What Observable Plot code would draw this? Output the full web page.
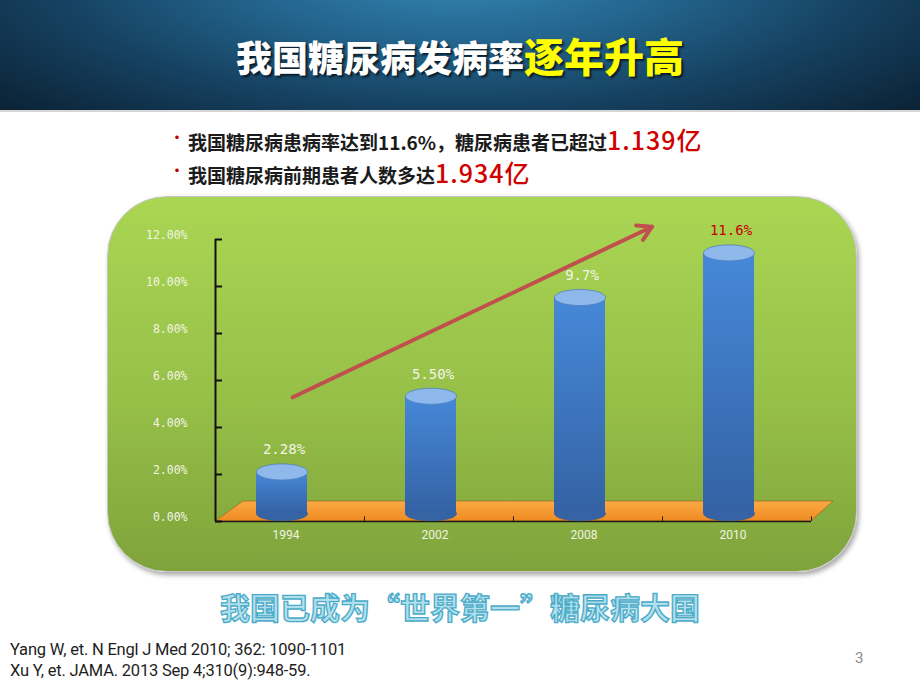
<!DOCTYPE html>
<html><head><meta charset="utf-8">
<script src="https://cdn.jsdelivr.net/npm/d3@7"></script>
<script src="https://cdn.jsdelivr.net/npm/@observablehq/plot@0.6"></script>
<style>
html,body{margin:0;padding:0;width:920px;height:690px;overflow:hidden;background:#fff;font-family:"Noto Sans CJK SC",sans-serif;}
#header{position:absolute;left:0;top:0;width:920px;height:110px;
 background:radial-gradient(ellipse 600px 200px at 460px -30px,#3589b6 0%,#24668f 35%,#164262 68%,#0c2539 100%);
 border-bottom:2px solid #d6d6d6;}
#title{position:absolute;left:0;top:28px;width:920px;text-align:center;font-weight:900;color:#fff;font-size:36px;line-height:54px;white-space:nowrap;
 text-shadow:2px 2px 2px rgba(0,0,0,.65);}
#title .hl{color:#ffff00;font-size:40px;}
.bl{position:absolute;left:170px;color:#c00000;font-size:14px;font-weight:700;}
.line{position:absolute;left:188px;white-space:nowrap;font-size:19px;font-weight:700;color:#1b1b1b;}
.line .red{color:#d00000;font-weight:500;font-size:25px;letter-spacing:1px;}
#panel{position:absolute;left:107px;top:196px;width:750px;height:376px;border-radius:60px;box-sizing:border-box;
 background:linear-gradient(#aad653,#96bf48 55%,#7fa33b);border:1px solid #c4c4c4;box-shadow:2px 3px 5px rgba(0,0,0,.35);}
#chart{position:absolute;left:107px;top:196px;}
#footer{position:absolute;left:0;top:584px;width:920px;text-align:center;font-size:30px;font-weight:700;color:#b2dfec;
 -webkit-text-stroke:1.3px #4aabc8;white-space:nowrap;line-height:44px;}
.ref{position:absolute;left:10px;font-family:"Liberation Sans Narrow","Roboto",sans-serif;font-size:16.5px;color:#1e1e1e;white-space:nowrap;letter-spacing:-0.2px;}
#page{position:absolute;left:855px;top:649px;font-family:Roboto,sans-serif;font-size:15px;color:#8a8a8a;}
</style></head>
<body>
<div id="header"><div id="title">我国糖尿病发病率<span class="hl">逐年升高</span></div></div>
<div class="bl" style="top:126px">·</div>
<div class="line" style="top:121px">我国糖尿病患病率达到11.6%，糖尿病患者已超过<span class="red">1.139亿</span></div>
<div class="bl" style="top:159px">·</div>
<div class="line" style="top:154px">我国糖尿病前期患者人数多达<span class="red">1.934亿</span></div>
<div id="panel"></div>
<div id="chart"></div>
<div id="footer">我国已成为“世界第一”糖尿病大国</div>
<div class="ref" style="top:640px">Yang W, et. N Engl J Med 2010; 362: 1090-1101</div>
<div class="ref" style="top:661px">Xu Y, et. JAMA. 2013 Sep 4;310(9):948-59.</div>
<div id="page">3</div>
<script>
// ---- data ----
const years = ["1994", "2002", "2008", "2010"];
const rates = [2.28, 5.5, 9.7, 11.6];
const rateLabels = ["2.28%", "5.50%", "9.7%", "11.6%"];
const yTicks = [0, 2, 4, 6, 8, 10, 12];
const trendFrom = ["1994", 5.23];
const trendTo = ["2010", 14.26];

const data = years.map((year, i) => ({year, rate: rates[i], label: rateLabels[i]}));

// ---- layout ----
const W = 750, H = 376, mL = 108, mR = 46, mT = 43, mB = 51;
const bw = (W - mL - mR) / years.length;
const barW = 51, inset = (bw - barW) / 2;
const sx = -8, sy = 4, base = 0.5;

const ellipse = (rx, ry) => ({draw(ctx) {
  const k = 0.5523;
  ctx.moveTo(rx, 0);
  ctx.bezierCurveTo(rx, ry * k, rx * k, ry, 0, ry);
  ctx.bezierCurveTo(-rx * k, ry, -rx, ry * k, -rx, 0);
  ctx.bezierCurveTo(-rx, -ry * k, -rx * k, -ry, 0, -ry);
  ctx.bezierCurveTo(rx * k, -ry, rx, -ry * k, rx, 0);
  ctx.closePath();
}});

const floor = (index, scales, values, dims) => {
  const y0 = scales.y(0), x0 = dims.marginLeft, x1 = dims.width - dims.marginRight;
  const g = d3.create("svg:g");
  g.append("path")
    .attr("d", `M${x0},${y0}L${x1},${y0}L${x1 + 22},${y0 - 20}L${x0 + 28},${y0 - 20}Z`)
    .attr("fill", "url(#floorGrad)").attr("stroke", "#9a6a20").attr("stroke-width", 0.7);
  return g.node();
};

const svg = Plot.plot({
  width: W, height: H,
  marginLeft: mL, marginRight: mR, marginTop: mT, marginBottom: mB,
  style: {background: "transparent", overflow: "visible", color: "#f1f4e4"},
  x: {type: "band", domain: years, padding: 0, label: null},
  y: {domain: [0, 12], label: null},
  color: {type: "identity"},
  marks: [
    floor,
    Plot.ruleY([0], {stroke: "#1a1a1a", strokeWidth: 1.5}),
    Plot.ruleX(years, {x: d => d, dx: bw / 2, y1: 0, y2: 0.2, stroke: "#222", strokeWidth: 1}),
    Plot.ruleX([years[0]], {x: d => d, dx: -bw / 2, y1: 0, y2: 12, stroke: "#111", strokeWidth: 2}),
    Plot.tickY(yTicks, {y: d => d, insetRight: W - mL - mR - 7, stroke: "#111", strokeWidth: 2}),
    Plot.axisY({ticks: yTicks, tickSize: 0, tickPadding: 28, dy: -4, tickFormat: d => d.toFixed(2) + "%",
      fontSize: 11.5, fontFamily: "DejaVu Sans Mono", label: null}),
    Plot.axisX({tickSize: 0, tickPadding: 9, dx: -4, fontSize: 12, fontFamily: "Roboto", label: null}),
    Plot.dot(data, {x: "year", y: () => base, dx: sx, dy: sy, r: 5, symbol: ellipse(25.5, 7),
      fill: "#3563a4", stroke: "#2f5a94", strokeWidth: 0.6}),
    Plot.barY(data, {x: "year", y1: base, y2: "rate", dx: sx, dy: sy, insetLeft: inset, insetRight: inset,
      fill: "url(#barGrad)"}),
    Plot.dot(data, {x: "year", y: "rate", dx: sx, dy: sy, r: 5, symbol: ellipse(25.5, 8),
      fill: "#8fb9eb", stroke: "#4f80c0", strokeWidth: 0.8}),
    Plot.text(data, {x: "year", y: "rate", text: "label", dx: -6, dy: -18,
      fill: d => d.year === "2010" ? "#c40000" : "#f4f4e8", fontSize: 14, fontFamily: "DejaVu Sans Mono"}),
    Plot.arrow([{from: trendFrom, to: trendTo}], {x1: d => d.from[0], y1: d => d.from[1], x2: d => d.to[0], y2: d => d.to[1],
      insetStart: 3, insetEnd: 94, stroke: "#c0504d", strokeWidth: 4, headLength: 6})
  ]
});

const defs = d3.select(svg).insert("defs", ":first-child");
const bg = defs.append("linearGradient").attr("id", "barGrad").attr("x1", 0).attr("y1", 0).attr("x2", 0).attr("y2", 1);
bg.append("stop").attr("offset", "0%").attr("stop-color", "#4688d8");
bg.append("stop").attr("offset", "100%").attr("stop-color", "#3462a4");
const fg = defs.append("linearGradient").attr("id", "floorGrad").attr("x1", 0).attr("y1", 0).attr("x2", 0).attr("y2", 1);
fg.append("stop").attr("offset", "0%").attr("stop-color", "#fcaa44");
fg.append("stop").attr("offset", "100%").attr("stop-color", "#ef8a22");

document.getElementById("chart").appendChild(svg);
</script>
</body></html>
